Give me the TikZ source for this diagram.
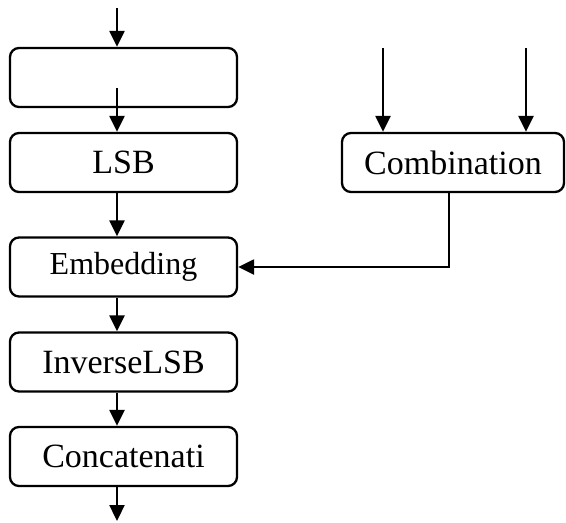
\documentclass[tikz,border=0pt]{standalone}
\usepackage{fontspec}
\setmainfont{Liberation Serif}
\usetikzlibrary{arrows.meta}
\begin{document}
\begin{tikzpicture}[x=1pt,y=-1pt,
  box/.style={draw,line width=2.3pt,rounded corners=9pt,minimum width=227pt,minimum height=59pt,inner sep=0pt,font=\fontsize{34}{37}\selectfont},
  arr/.style={line width=2.3pt,-{Triangle[length=16pt,width=15pt]}},
  ln/.style={line width=2.3pt}]
\useasboundingbox (0,0) rectangle (566,523);
\node[box] (b1) at (123.5,77.5) {};
\node[box] (lsb) at (123.5,162.5) {LSB};
\node[box] (emb) at (123.5,267) {\fontsize{32}{35}\selectfont Embedding};
\node[box] (inv) at (123.5,362) {InverseLSB};
\node[box] (cat) at (123.5,456.5) {Concatenati};
\node[box,minimum width=222pt] (comb) at (453,162.5) {Combination};
\coordinate (t1) at (117,8);
\coordinate (t2) at (117,88);
\coordinate (out) at (117,521);
\coordinate (ca) at (383,48);
\coordinate (cb) at (526,48);
\coordinate (cx) at (449,0);
\draw[arr] (t1) -- (t1 |- b1.north);
\draw[arr] (t2) -- (t2 |- lsb.north);
\draw[arr] (t1 |- lsb.south) -- (t1 |- emb.north);
\draw[arr] (t1 |- emb.south) -- (t1 |- inv.north);
\draw[arr] (t1 |- inv.south) -- (t1 |- cat.north);
\draw[arr] (t1 |- cat.south) -- (out);
\draw[arr] (ca) -- (ca |- comb.north);
\draw[arr] (cb) -- (cb |- comb.north);
\draw[arr] (cx |- comb.south) |- (emb.east);
\end{tikzpicture}
\end{document}
